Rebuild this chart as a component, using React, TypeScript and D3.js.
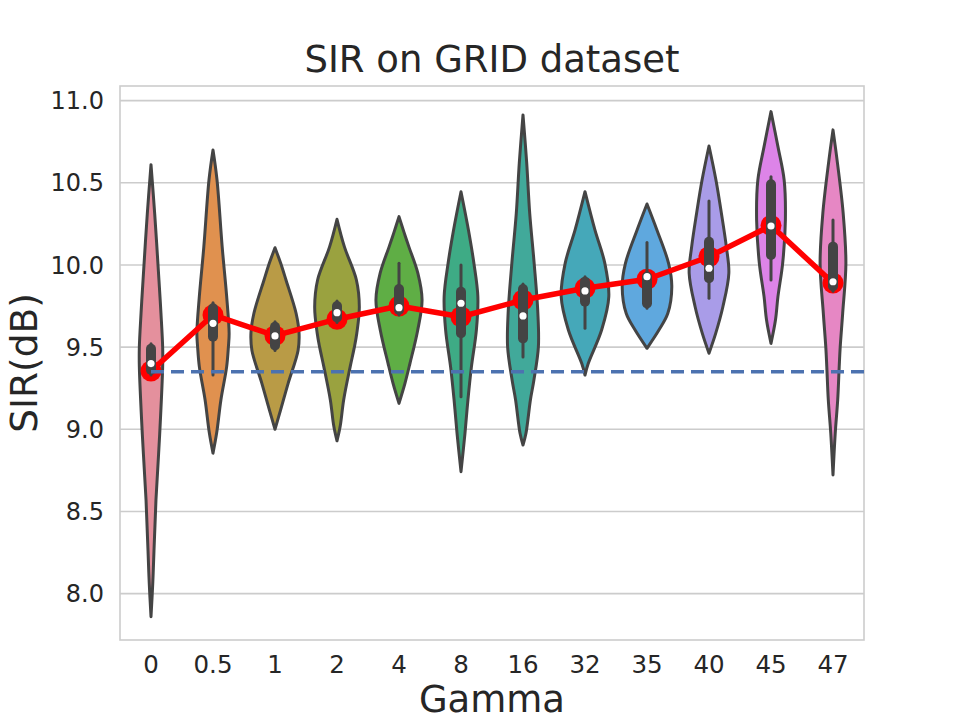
import React, { useEffect, useRef } from 'react';
import * as d3 from 'd3';

// gamma values on the x axis
const gammas = ['0', '0.5', '1', '2', '4', '8', '16', '32', '35', '40', '45', '47'];

// summary stats per gamma (SIR in dB)
const meanSIR = [9.355, 9.696, 9.57, 9.67, 9.75, 9.685, 9.787, 9.858, 9.913, 10.05, 10.24, 9.89];
const medianSIR = [9.4, 9.645, 9.568, 9.71, 9.74, 9.767, 9.69, 9.842, 9.929, 9.98, 10.237, 9.898];
const q1SIR = [9.33, 9.533, 9.48, 9.65, 9.696, 9.554, 9.523, 9.746, 9.736, 9.889, 10.03, 9.84];
const q3SIR = [9.52, 9.767, 9.655, 9.78, 9.884, 9.868, 9.884, 9.929, 9.96, 10.172, 10.522, 10.142];
const whiskerLo = [9.33, 9.33, 9.48, 9.65, 9.696, 9.198, 9.44, 9.615, 9.736, 9.797, 9.909, 9.84];
const whiskerHi = [9.52, 9.77, 9.655, 9.78, 10.01, 10.0, 9.884, 9.929, 10.136, 10.39, 10.537, 10.274];

// baseline SIR (dashed)
const baselineSIR = 9.35;

const yTicks = [8.0, 8.5, 9.0, 9.5, 10.0, 10.5, 11.0];

// violin outlines: [SIR, relative density]
const density0 = [[10.61, 0], [10.31, 0.15], [9.91, 0.32], [9.71, 0.4], [9.5, 0.47], [9.38, 0.47], [8.97, 0.35], [8.57, 0.2], [8.26, 0.12], [8.06, 0.07], [7.86, 0]];
const density1 = [[10.7, 0], [10.52, 0.16], [10.11, 0.37], [9.81, 0.55], [9.585, 0.65], [9.5, 0.62], [9.38, 0.55], [9.18, 0.32], [8.98, 0.15], [8.855, 0]];
const density2 = [[10.105, 0], [10.01, 0.23], [9.91, 0.44], [9.706, 0.85], [9.585, 0.97], [9.48, 0.93], [9.28, 0.53], [9.12, 0.23], [9.0, 0]];
const density3 = [[10.278, 0], [10.11, 0.3], [9.91, 0.78], [9.746, 0.9], [9.586, 0.8], [9.5, 0.7], [9.38, 0.53], [9.18, 0.27], [9.02, 0.13], [8.93, 0]];
const density4 = [[10.294, 0], [10.2, 0.2], [10.11, 0.4], [9.95, 0.76], [9.787, 0.93], [9.6, 0.75], [9.4, 0.44], [9.28, 0.24], [9.158, 0]];
const density5 = [[10.446, 0], [10.213, 0.3], [10.01, 0.52], [9.807, 0.68], [9.604, 0.62], [9.38, 0.42], [9.18, 0.28], [8.976, 0.16], [8.742, 0]];
const density6 = [[10.913, 0], [10.62, 0.15], [10.315, 0.27], [10.01, 0.45], [9.706, 0.6], [9.5, 0.62], [9.3, 0.44], [9.18, 0.3], [8.976, 0.12], [8.904, 0]];
const density7 = [[10.446, 0], [10.213, 0.4], [10.01, 0.8], [9.807, 0.96], [9.604, 0.67], [9.4, 0.13], [9.33, 0]];
const density8 = [[10.371, 0], [10.213, 0.4], [10.01, 0.87], [9.868, 1.0], [9.706, 0.84], [9.604, 0.48], [9.493, 0]];
const density9 = [[10.724, 0], [10.517, 0.28], [10.315, 0.5], [10.11, 0.7], [9.95, 0.8], [9.746, 0.56], [9.584, 0.27], [9.463, 0]];
const density10 = [[10.933, 0], [10.72, 0.28], [10.517, 0.53], [10.274, 0.58], [10.01, 0.47], [9.807, 0.28], [9.665, 0.18], [9.523, 0]];
const density11 = [[10.822, 0], [10.62, 0.18], [10.315, 0.41], [10.01, 0.52], [9.706, 0.39], [9.5, 0.29], [9.38, 0.25], [9.18, 0.19], [8.976, 0.09], [8.722, 0]];
const densities = [density0, density1, density2, density3, density4, density5, density6, density7, density8, density9, density10, density11];

const palette = ['#e4909d', '#e0914f', '#b99b46', '#9aa23f', '#5fae45', '#3eab85', '#41a99a', '#45a8b9', '#5fa8de', '#a99ce8', '#dd84e8', '#e687c4'];

const font = '"DejaVu Sans", sans-serif';
const textColor = '#262626';
const lineGray = '#444444';

export default function App() {
  const ref = useRef<SVGSVGElement>(null);

  useEffect(() => {
    const root = d3.select(ref.current);
    root.selectAll('*').remove();

    // margins of the plotting area
    const margin = { top: 86, right: 96, bottom: 80, left: 120 };
    const width = 960 - margin.left - margin.right;
    const height = 720 - margin.top - margin.bottom;

    const svg = root.append('g').attr('transform', 'translate(' + margin.left + ',' + margin.top + ')');

    const x = d3.scaleBand().domain(gammas).range([0, width]);
    const y = d3.scaleLinear().domain([7.718, 11.089]).range([height, 0]);
    const w = d3.scaleLinear().domain([0, 1]).range([0, x.bandwidth() * 0.4]);
    const cx = (i: number) => (x(gammas[i]) as number) + x.bandwidth() / 2;

    // grid
    svg
      .selectAll('.grid')
      .data(yTicks)
      .enter()
      .append('line')
      .attr('x1', 0)
      .attr('x2', width)
      .attr('y1', (d) => y(d))
      .attr('y2', (d) => y(d))
      .style('stroke', '#cccccc')
      .style('stroke-width', 1.6);

    svg
      .append('rect')
      .attr('width', width)
      .attr('height', height)
      .style('fill', 'none')
      .style('stroke', '#cccccc')
      .style('stroke-width', 1.6);

    // violins
    densities.forEach((dens, i) => {
      const area = d3
        .area<number[]>()
        .curve(d3.curveCatmullRom.alpha(0.5))
        .y((d) => y(d[0]))
        .x0((d) => cx(i) - w(d[1]))
        .x1((d) => cx(i) + w(d[1]));
      svg
        .append('path')
        .attr('d', area(dens))
        .style('fill', palette[i])
        .style('stroke', lineGray)
        .style('stroke-width', 3)
        .style('stroke-linejoin', 'round');
    });

    // mean line
    const meanLine = d3
      .line<number>()
      .x((d, i) => cx(i))
      .y((d) => y(d));
    svg
      .append('path')
      .attr('d', meanLine(meanSIR))
      .style('fill', 'none')
      .style('stroke', '#ff0000')
      .style('stroke-width', 5.5)
      .style('stroke-linejoin', 'round');
    svg
      .selectAll('.mean')
      .data(meanSIR)
      .enter()
      .append('circle')
      .attr('cx', (d, i) => cx(i))
      .attr('cy', (d) => y(d))
      .attr('r', 10.5)
      .style('fill', '#ff0000');

    // inner boxes
    gammas.forEach((g, i) => {
      svg
        .append('line')
        .attr('x1', cx(i))
        .attr('x2', cx(i))
        .attr('y1', y(whiskerHi[i]))
        .attr('y2', y(whiskerLo[i]))
        .style('stroke', lineGray)
        .style('stroke-width', 3)
        .style('stroke-linecap', 'round');
      svg
        .append('rect')
        .attr('x', cx(i) - 5)
        .attr('width', 10)
        .attr('y', y(q3SIR[i]))
        .attr('height', y(q1SIR[i]) - y(q3SIR[i]))
        .attr('rx', 5)
        .style('fill', lineGray);
      svg
        .append('circle')
        .attr('cx', cx(i))
        .attr('cy', y(medianSIR[i]))
        .attr('r', 3.6)
        .style('fill', '#ffffff');
    });

    // baseline
    svg
      .append('line')
      .attr('x1', cx(0))
      .attr('x2', width)
      .attr('y1', y(baselineSIR))
      .attr('y2', y(baselineSIR))
      .style('stroke', '#4c72b0')
      .style('stroke-width', 3.4)
      .style('stroke-dasharray', '13,7');

    // tick labels
    svg
      .selectAll('.ylab')
      .data(yTicks)
      .enter()
      .append('text')
      .attr('x', -16)
      .attr('y', (d) => y(d))
      .attr('dy', '0.36em')
      .attr('text-anchor', 'end')
      .style('font-family', font)
      .style('font-size', '24px')
      .style('fill', textColor)
      .text((d) => d3.format('.1f')(d));

    svg
      .selectAll('.xlab')
      .data(gammas)
      .enter()
      .append('text')
      .attr('x', (d, i) => cx(i))
      .attr('y', height + 33)
      .attr('text-anchor', 'middle')
      .style('font-family', font)
      .style('font-size', '24.5px')
      .style('fill', textColor)
      .text((d) => d);

    // axis titles
    svg
      .append('text')
      .attr('x', width / 2)
      .attr('y', height + 72)
      .attr('text-anchor', 'middle')
      .style('font-family', font)
      .style('font-size', '37px')
      .style('fill', textColor)
      .text('Gamma');

    svg
      .append('text')
      .attr('transform', 'translate(' + -83 + ',' + height / 2 + ') rotate(-90)')
      .attr('text-anchor', 'middle')
      .style('font-family', font)
      .style('font-size', '37.5px')
      .style('fill', textColor)
      .text('SIR(dB)');

    svg
      .append('text')
      .attr('x', width / 2)
      .attr('y', -14)
      .attr('text-anchor', 'middle')
      .style('font-family', font)
      .style('font-size', '37px')
      .style('fill', textColor)
      .text('SIR on GRID dataset');
  }, []);

  return (
    <div>
      <svg ref={ref} width={960} height={720} style={{ position: 'absolute', left: 0, top: 0, background: '#ffffff' }}></svg>
    </div>
  );
}
